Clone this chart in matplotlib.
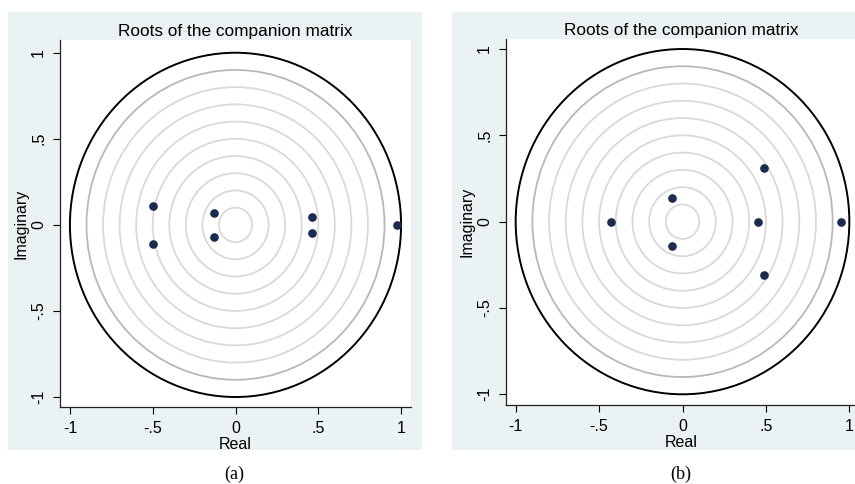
import matplotlib
matplotlib.use('Agg')
import matplotlib.pyplot as plt
from matplotlib.patches import Circle, Rectangle

plt.rcParams['font.family'] = ['Liberation Sans', 'DejaVu Sans']

# 数据: 伴随矩阵的特征根
roots_a_real = [-0.50, -0.50, -0.13, -0.13, 0.46, 0.46, 0.976]
roots_a_imag = [0.11, -0.11, 0.07, -0.07, 0.047, -0.047, 0.0]

roots_b_real = [-0.43, -0.064, -0.064, 0.45, 0.486, 0.486, 0.952]
roots_b_imag = [0.0, 0.139, -0.143, 0.0, 0.309, -0.309, 0.0]

# 参考圆半径
grid_radii = [0.1, 0.2, 0.3, 0.4, 0.5, 0.6, 0.7, 0.8]
outer_grid_radius = 0.9
unit_radius = 1.0

tick_vals = [-1, -0.5, 0, 0.5, 1]
tick_labels = ['-1', '-.5', '0', '.5', '1']

W, H = 855, 484
BG = '#eaf2f3'
DOT = '#1a2b4f'

fig = plt.figure(figsize=(W / 100, H / 100), dpi=100)
fig.patch.set_facecolor('white')


def px_box(x0, y0, x1, y1):
    """像素坐标(左上原点) -> figure 坐标"""
    return [x0 / W, 1 - y1 / H, (x1 - x0) / W, (y1 - y0) / H]


def draw_panel(bg_box, ax_box, xlim, ylim, re, im, caption, cap_x):
    l, b, w, h = px_box(*bg_box)
    fig.patches.append(Rectangle((l, b), w, h, transform=fig.transFigure,
                                 facecolor=BG, edgecolor='none', zorder=-10))
    ax = fig.add_axes(px_box(*ax_box))
    ax.set_facecolor('white')
    ax.set_xlim(*xlim)
    ax.set_ylim(*ylim)

    for r in grid_radii:
        ax.add_patch(Circle((0, 0), r, fill=False, edgecolor='#d9d9d9', linewidth=1.3))
    ax.add_patch(Circle((0, 0), outer_grid_radius, fill=False, edgecolor='#b8b8b8', linewidth=1.3))
    ax.add_patch(Circle((0, 0), unit_radius, fill=False, edgecolor='black', linewidth=1.4))

    ax.plot(re, im, 'o', color=DOT, markersize=5.2, zorder=5)

    for s in ['top', 'right']:
        ax.spines[s].set_visible(False)
    for s in ['left', 'bottom']:
        ax.spines[s].set_color('#222222')
        ax.spines[s].set_linewidth(0.9)

    ax.set_xticks(tick_vals)
    ax.set_xticklabels(tick_labels)
    ax.set_yticks(tick_vals)
    ax.set_yticklabels(tick_labels, rotation=90, va='center')
    ax.tick_params(direction='out', length=5, width=0.8, labelsize=11.5, pad=5)

    ax.set_xlabel('Real', fontsize=11.5, labelpad=1)
    ax.set_ylabel('Imaginary', fontsize=11.5, labelpad=2)
    ax.set_title('Roots of the companion matrix', fontsize=12.4, pad=3)

    fig.text(cap_x / W, 1 - 474 / H, caption, ha='center', va='center',
             fontsize=13, family=['Liberation Serif', 'DejaVu Serif'])
    return ax


# (a)
draw_panel((8, 12, 422, 450), (60, 40, 411, 407),
           (-1.060, 1.060), (-1.058, 1.074),
           roots_a_real, roots_a_imag, '(a)', 234)

# (b) 右侧图被裁切
draw_panel((452, 12, 860, 450), (506, 39, 857, 405),
           (-1.058, 1.046), (-1.062, 1.058),
           roots_b_real, roots_b_imag, '(b)', 681)

fig.savefig('out.png', dpi=100)
